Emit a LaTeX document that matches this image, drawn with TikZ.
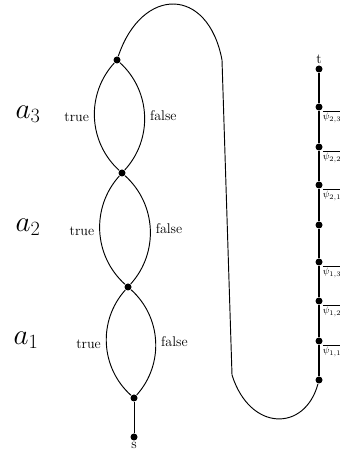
\documentclass[tikz,border=0pt]{standalone}
\usetikzlibrary{positioning}
\tikzset{
  dot/.style={circle,fill,inner sep=0pt,minimum size=2.1mm},
  choice/.style={font=\fontsize{12}{14}\selectfont},
  varlbl/.style={font=\fontsize{24}{26}\selectfont},
  psilbl/.style={font=\fontsize{8}{9}\selectfont,inner sep=0.5pt,anchor=north west},
}
\begin{document}
\begin{tikzpicture}[x=0.03cm,y=0.03cm,line width=0.8pt]
  \useasboundingbox (0,0) rectangle (340,452);
  % variable chain
  \node[dot,label={[choice,inner sep=1pt]below:s}] (s) at (134,15) {};
  \node[dot] (v0) at (134,54) {};
  \node[dot] (v1) at (128,165) {};
  \node[dot] (v2) at (122,279) {};
  \node[dot] (v3) at (117,392) {};
  \draw (s) -- (v0);
  \draw (v1) to[bend right=45] node[choice,left=1pt] {true} (v0);
  \draw (v1) to[bend left=45] node[choice,right=1pt] {false} (v0);
  \draw (v2) to[bend right=45] node[choice,left=1pt] {true} (v1);
  \draw (v2) to[bend left=45] node[choice,right=1pt] {false} (v1);
  \draw (v3) to[bend right=45] node[choice,left=1pt] {true} (v2);
  \draw (v3) to[bend left=45] node[choice,right=1pt] {false} (v2);
  \node[varlbl] (a1) at (26,112) {$a_1$};
  \node[varlbl] (a2) at (28,225) {$a_2$};
  \node[varlbl] (a3) at (28,338) {$a_3$};
  % clause chain
  \node[dot] (c0) at (319,72) {};
  \node[dot] (c1) at (319,111) {};
  \node[dot] (c2) at (319,151) {};
  \node[dot] (c3) at (319,190) {};
  \node[dot] (c4) at (319,227) {};
  \node[dot] (c5) at (319,267) {};
  \node[dot] (c6) at (319,305) {};
  \node[dot] (c7) at (319,345) {};
  \node[dot,label={[choice,inner sep=1pt]above:t}] (t) at (319,383) {};
  \draw[line width=1pt] (c0) -- (c1) -- (c2) -- (c3) -- (c4) -- (c5) -- (c6) -- (c7) -- (t);
  \node[psilbl] at (c7.south east) {$\overline{\psi_{2,3}}$};
  \node[psilbl] at (c6.south east) {$\overline{\psi_{2,2}}$};
  \node[psilbl] at (c5.south east) {$\overline{\psi_{2,1}}$};
  \node[psilbl] at (c3.south east) {$\overline{\psi_{1,3}}$};
  \node[psilbl] at (c2.south east) {$\overline{\psi_{1,2}}$};
  \node[psilbl] at (c1.south east) {$\overline{\psi_{1,1}}$};
  % long connection
  \draw (v3) .. controls (142,466) and (208,466) .. (222,392)
    -- (232,77) .. controls (250,20) and (305,20) .. (c0);
\end{tikzpicture}
\end{document}
